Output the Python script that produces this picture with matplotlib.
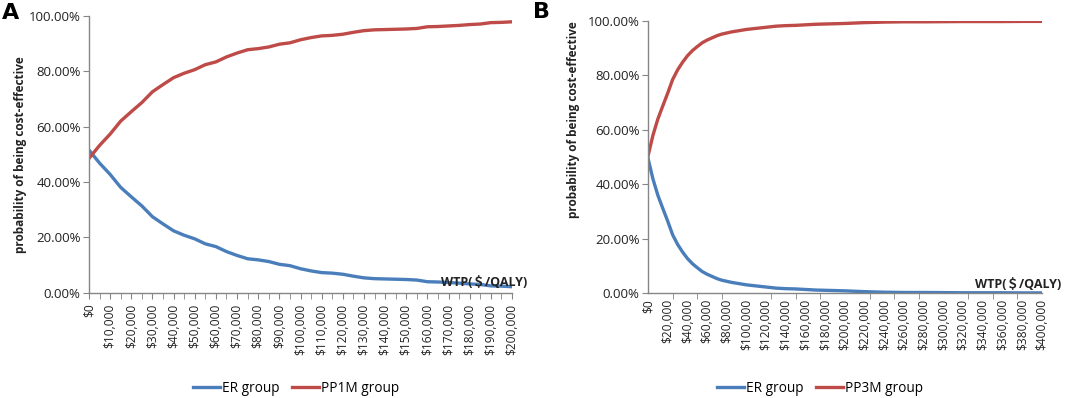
import matplotlib
matplotlib.use("Agg")
import matplotlib.pyplot as plt
from matplotlib.ticker import FixedLocator, MultipleLocator, FuncFormatter
from matplotlib.lines import Line2D

# ---------------- data ----------------
wtp_a = [i * 5000 for i in range(41)]
er_a = [51.5, 46.8, 42.7, 38.0, 34.6, 31.3, 27.4, 24.8, 22.3, 20.7, 19.4,
        17.6, 16.6, 14.8, 13.4, 12.2, 11.8, 11.2, 10.2, 9.7, 8.6,
        7.8, 7.2, 7.0, 6.6, 5.9, 5.3, 5.0, 4.9, 4.8, 4.7,
        4.5, 3.9, 3.8, 3.6, 3.4, 3.1, 2.9, 2.4, 2.3, 2.1]
pp1m_a = [48.5, 53.2, 57.3, 62.0, 65.4, 68.7, 72.6, 75.2, 77.7, 79.3, 80.6,
          82.4, 83.4, 85.2, 86.6, 87.8, 88.2, 88.8, 89.8, 90.3, 91.4,
          92.2, 92.8, 93.0, 93.4, 94.1, 94.7, 95.0, 95.1, 95.2, 95.3,
          95.5, 96.1, 96.2, 96.4, 96.6, 96.9, 97.1, 97.6, 97.7, 97.9]

wtp_b = ([i * 5000 for i in range(21)] + [110000 + i * 10000 for i in range(10)]
         + [220000 + i * 20000 for i in range(10)])
er_b = [49.6, 42.0, 36.0, 31.2, 26.5, 21.5, 18.0, 15.2, 12.8, 10.9, 9.4,
        8.0, 7.0, 6.2, 5.4, 4.8, 4.4, 4.0, 3.7, 3.4, 3.1,
        2.7, 2.3, 1.9, 1.7, 1.6, 1.4, 1.2, 1.1, 1.0, 0.9,
        0.6, 0.4, 0.3, 0.3, 0.25, 0.2, 0.2, 0.2, 0.15, 0.15]
pp3m_b = [50.4, 58.0, 64.0, 68.8, 73.5, 78.5, 82.0, 84.8, 87.2, 89.1, 90.6,
          92.0, 93.0, 93.8, 94.6, 95.2, 95.6, 96.0, 96.3, 96.6, 96.9,
          97.3, 97.7, 98.1, 98.3, 98.4, 98.6, 98.8, 98.9, 99.0, 99.1,
          99.4, 99.6, 99.7, 99.7, 99.75, 99.8, 99.8, 99.8, 99.85, 99.85]

y_ticks = [0, 20, 40, 60, 80, 100]
labels_a = ["ER group", "PP1M group"]
labels_b = ["ER group", "PP3M group"]

BLUE = "#4a7ebb"
RED = "#be4b48"
GRAY = "#868686"
FONT = ["Open Sans", "DejaVu Sans"]

plt.rcParams["font.family"] = FONT

fig = plt.figure(figsize=(10.65, 3.98), dpi=100)
W, H = 1065, 398


def make_axes(l, r, t, b):
    return fig.add_axes([l / W, 1 - b / H, (r - l) / W, (b - t) / H])


def style(ax, xmax, label_step, tick_step, letter, letter_xy, ylab_xy, wtp_xy, legend_labels, legend_x):
    ax.set_xlim(0, xmax)
    ax.set_ylim(0, 100)
    for s in ("top", "right"):
        ax.spines[s].set_visible(False)
    for s in ("left", "bottom"):
        ax.spines[s].set_color(GRAY)
        ax.spines[s].set_linewidth(1.0)
    ax.yaxis.set_major_locator(FixedLocator(y_ticks))
    ax.yaxis.set_major_formatter(FuncFormatter(lambda v, p: f"{v:.2f}%"))
    ax.tick_params(axis="y", length=4, color=GRAY, labelsize=9.5, pad=2, labelcolor="#222222")
    ax.xaxis.set_major_locator(MultipleLocator(label_step))
    ax.xaxis.set_minor_locator(MultipleLocator(tick_step))
    ax.xaxis.set_major_formatter(FuncFormatter(lambda v, p: f"${v:,.0f}"))
    major_len = 4 if label_step % tick_step == 0 else 0
    ax.tick_params(axis="x", which="major", length=major_len, color=GRAY, labelsize=8.6,
                   rotation=90, pad=4, labelcolor="#222222")
    ax.tick_params(axis="x", which="minor", length=4, color=GRAY)
    fig.text(letter_xy[0] / W, 1 - letter_xy[1] / H, letter, fontsize=16, fontweight="bold",
             ha="left", va="center", family=["DejaVu Sans"])
    fig.text(ylab_xy[0] / W, 1 - ylab_xy[1] / H, "probability of being cost-effective", rotation=90,
             fontsize=8.5, fontweight="bold", ha="center", va="center", color="#222222")
    fig.text(wtp_xy[0] / W, 1 - wtp_xy[1] / H, "WTP(＄/QALY)", fontsize=9, fontweight="bold",
             ha="right", va="center", color="#222222", family=["Open Sans", "Noto Sans CJK SC"])
    handles = [Line2D([], [], color=BLUE, lw=2.4), Line2D([], [], color=RED, lw=2.4)]
    fig.legend(handles, legend_labels, loc="center", bbox_to_anchor=(legend_x / W, 1 - 388 / H),
               ncol=2, frameon=False, fontsize=9.8, handlelength=2.0, handletextpad=0.15,
               columnspacing=0.9)


ax1 = make_axes(89, 512, 16, 292.5)
ax1.plot(wtp_a, er_a, color=BLUE, lw=2.4, label=labels_a[0])
ax1.plot(wtp_a, pp1m_a, color=RED, lw=2.4, label=labels_a[1])
style(ax1, 200000, 10000, 5000, "A", (2, 13), (21, 155), (527, 282), labels_a, 296)

ax2 = make_axes(648, 1042, 21, 293.3)
ax2.plot(wtp_b, er_b, color=BLUE, lw=2.4, label=labels_b[0])
ax2.plot(wtp_b, pp3m_b, color=RED, lw=2.4, label=labels_b[1])
style(ax2, 400000, 20000, 25000, "B", (533, 12), (573, 120), (1061, 284), labels_b, 820)

fig.savefig("out.png", dpi=100)
